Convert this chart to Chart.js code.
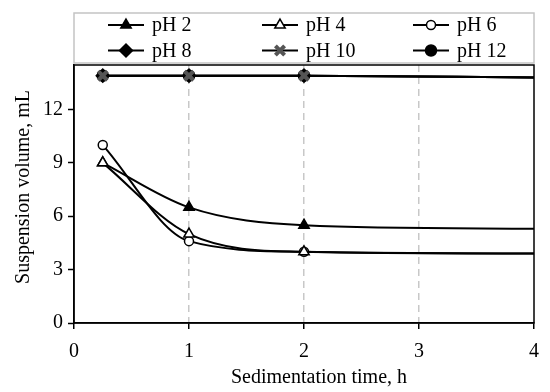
<!DOCTYPE html>
<html>
<head>
<meta charset="utf-8">
<script src="https://cdn.jsdelivr.net/npm/chart.js@4.4.1/dist/chart.umd.min.js"></script>
<style>
  html, body { margin: 0; padding: 0; background: #fff; }
  #wrap { width: 550px; height: 392px; }
</style>
</head>
<body>
<div id="wrap"><canvas id="chart" width="550" height="392"></canvas></div>
<script>
// Sedimentation time (h) and suspension volume (mL) per pH
const timeH = [0.25, 1, 2, 4];
const seriesLabels = ['pH 2', 'pH 4', 'pH 6', 'pH 8', 'pH 10', 'pH 12'];
const ph2  = [9, 6.5, 5.5, 5.3];
const ph4  = [9, 5, 4, 3.9];
const ph6  = [10, 4.6, 4, 3.9];
const ph8  = [13.9, 13.9, 13.9, 13.8];
const ph10 = [13.9, 13.9, 13.9, 13.8];
const ph12 = [13.9, 13.9, 13.9, 13.8];
const yTicks = [0, 3, 6, 9, 12];
const xTicks = [0, 1, 2, 3, 4];
const xTitle = 'Sedimentation time, h';
const yTitle = 'Suspension volume, mL';

const FONT = '"Liberation Serif", "Times New Roman", serif';
Chart.defaults.font.family = FONT;
Chart.defaults.font.size = 20;
Chart.defaults.color = '#000';

// estilo de cada série
const styles = [
  { pointStyle: 'triangle', fill: '#000', stroke: '#000', bw: 1.5, r: 6, order: 2 },
  { pointStyle: 'triangle', fill: '#fff', stroke: '#000', bw: 1.5, r: 6, order: 0 },
  { pointStyle: 'circle',   fill: '#fff', stroke: '#000', bw: 1.5, r: 4.5, order: 1 },
  { pointStyle: 'rectRot',  fill: '#000', stroke: '#000', bw: 1.5, r: 6.5, order: 4 },
  { pointStyle: 'crossRot', fill: '#666', stroke: '#555', bw: 4, r: 6.5, order: 0 },
  { pointStyle: 'circle',   fill: '#000', stroke: '#000', bw: 1.5, r: 5.5, order: 3 }
];
const values = [ph2, ph4, ph6, ph8, ph10, ph12];

const datasets = values.map((vals, i) => ({
  label: seriesLabels[i],
  data: timeH.map((t, k) => ({ x: t, y: vals[k] })),
  borderColor: '#000',
  borderWidth: 2,
  cubicInterpolationMode: 'monotone',
  pointStyle: styles[i].pointStyle,
  pointBackgroundColor: styles[i].fill,
  pointBorderColor: styles[i].stroke,
  pointBorderWidth: styles[i].bw,
  pointRadius: [styles[i].r, styles[i].r, styles[i].r, 0],
  order: styles[i].order
}));

// moldura completa da área do gráfico
const frame = {
  id: 'frame',
  beforeDatasetsDraw(chart) {
    const { ctx, chartArea: a } = chart;
    ctx.save();
    ctx.strokeStyle = '#000';
    ctx.lineWidth = 1.5;
    ctx.strokeRect(a.left, a.top, a.right - a.left, a.bottom - a.top);
    ctx.restore();
  }
};

// títulos dos eixos (posição como no original, fora do centro)
const axisTitles = {
  id: 'axisTitles',
  afterDraw(chart) {
    const { ctx } = chart;
    ctx.save();
    ctx.fillStyle = '#000';
    ctx.font = '20px ' + FONT;
    ctx.textAlign = 'center';
    ctx.textBaseline = 'alphabetic';
    ctx.fillText(xTitle, 319, 383);
    ctx.translate(29, 187);
    ctx.rotate(-Math.PI / 2);
    ctx.fillText(yTitle, 0, 0);
    ctx.restore();
  }
};

// legenda em caixa, 3 colunas x 2 linhas
const legendCols = [34, 188, 339];
const legendRows = [25, 50.5];
const boxedLegend = {
  id: 'boxedLegend',
  afterDraw(chart) {
    const { ctx, chartArea: a } = chart;
    ctx.save();
    ctx.strokeStyle = '#c4c4c4';
    ctx.lineWidth = 1.5;
    ctx.strokeRect(a.left, 13, a.right - a.left, 50);
    chart.data.datasets.forEach((ds, i) => {
      const x0 = a.left + legendCols[i % 3];
      const y = legendRows[Math.floor(i / 3)];
      ctx.strokeStyle = '#000';
      ctx.lineWidth = 2;
      ctx.beginPath(); ctx.moveTo(x0, y); ctx.lineTo(x0 + 36, y); ctx.stroke();
      ctx.fillStyle = ds.pointBackgroundColor;
      ctx.strokeStyle = ds.pointBorderColor;
      ctx.lineWidth = ds.pointBorderWidth;
      if (Chart.helpers && Chart.helpers.drawPoint) {
        Chart.helpers.drawPoint(ctx, { pointStyle: ds.pointStyle, radius: ds.pointRadius[0], borderWidth: ds.pointBorderWidth, rotation: 0 }, x0 + 18, y);
      }
      ctx.fillStyle = '#000';
      ctx.font = '20px ' + FONT;
      ctx.textAlign = 'left';
      ctx.textBaseline = 'middle';
      ctx.fillText(ds.label, x0 + 44, y + 1);
    });
    ctx.restore();
  }
};

new Chart(document.getElementById('chart'), {
  type: 'line',
  data: { datasets },
  options: {
    responsive: false,
    animation: false,
    devicePixelRatio: 1,
    layout: { padding: { top: 65, right: 15, left: 0, bottom: 0 } },
    plugins: { legend: { display: false }, tooltip: { enabled: false } },
    scales: {
      x: {
        type: 'linear',
        min: 0, max: 4,
        afterBuildTicks: s => { s.ticks = xTicks.map(v => ({ value: v })); },
        afterFit: s => { s.height = 69; },
        ticks: { padding: 11, font: { size: 20 } },
        grid: {
          color: c => [1, 2, 3].includes(c.tick && c.tick.value) ? '#c8c8c8' : 'rgba(0,0,0,0)',
          lineWidth: 1.5,
          tickColor: '#000',
          tickLength: 6,
          tickWidth: 1.5
        },
        border: { display: true, color: '#000', width: 1.5, dash: [7, 5] },
        title: { display: false }
      },
      y: {
        min: 0, max: 14.5,
        afterBuildTicks: s => { s.ticks = yTicks.map(v => ({ value: v })); },
        afterFit: s => { s.width = 74; },
        ticks: { padding: 5, font: { size: 20 } },
        grid: { drawOnChartArea: false, color: '#000', tickColor: '#000', tickLength: 6, tickWidth: 1.5 },
        border: { display: true, color: '#000', width: 1.5 },
        title: { display: false }
      }
    }
  },
  plugins: [frame, axisTitles, boxedLegend]
});
</script>
</body>
</html>
